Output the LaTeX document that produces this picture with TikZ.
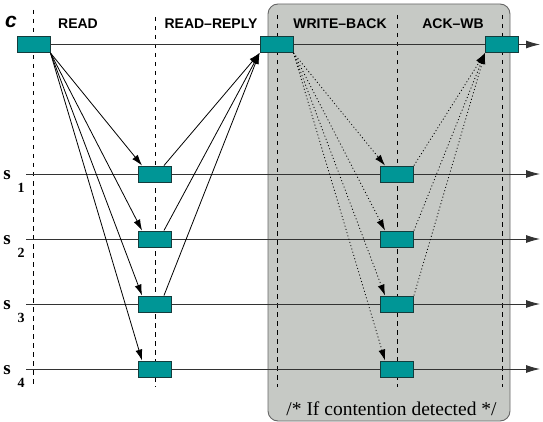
\documentclass[tikz,border=0pt]{standalone}
\usepackage{fontspec}
\setmainfont{Liberation Serif}
\setsansfont{Liberation Sans}
\usetikzlibrary{arrows.meta}
\definecolor{msgteal}{RGB}{0,150,150}
\definecolor{msgedge}{RGB}{20,60,60}
\definecolor{phasegray}{RGB}{198,201,197}

\begin{document}
\begin{tikzpicture}[x=1pt,y=-1pt,
  msgbox/.style={draw=msgedge,fill=msgteal,line width=0.9pt,minimum width=33pt,minimum height=16pt,inner sep=0pt},
  timeline/.style={draw=black!80,line width=0.9pt,-{Latex[length=14pt,width=8pt]}},
  phase/.style={dash pattern=on 4.5pt off 4.5pt,line width=0.9pt},
  msg/.style={line width=0.8pt,-{Latex[length=11pt,width=7pt]}},
  dotmsg/.style={msg,dash pattern=on 1pt off 2.4pt},
  phaselabel/.style={font=\sffamily\bfseries\fontsize{14}{14}\selectfont},
  proclabel/.style={inner sep=0pt,font=\bfseries\fontsize{19}{19}\selectfont},
  idxlabel/.style={inner sep=0pt,font=\bfseries\fontsize{14}{14}\selectfont},
  notelabel/.style={font=\fontsize{19.5}{19.5}\selectfont}
]
\useasboundingbox (0,0) rectangle (543,422);

% shaded write-back phase
\draw [draw=black!60, fill=phasegray, rounded corners=10pt, line width=0.9pt] (268,4) rectangle (510,421);

% phase borders
\foreach \x/\a/\b in {33/10/384, 155/17/387, 277/15/387, 397/15/387, 502/15/387}
  \draw [phase] (\x,\a) -- (\x,\b);

% server time lines
\foreach \i/\y in {1/174, 2/239, 3/304, 4/369} {
  \coordinate (s\i a) at (26,\y);
  \coordinate (s\i b) at (540,\y);
  \draw [timeline] (s\i a) -- (s\i b);
}

% client time line
\node [msgbox] (c0) at (33.5,44.5) {};
\coordinate (cb) at (540,44.5);
\draw [timeline] (c0.east) -- (cb);
\node [msgbox] (c1) at (276.5,44.5) {};
\node [msgbox] (c2) at (502,44.5) {};

\foreach \i/\y in {1/174, 2/239, 3/304, 4/369} {
  \node [msgbox] (r\i) at (155,\y) {};
  \node [msgbox] (w\i) at (397,\y) {};
}

% messages
\foreach \i in {1,...,4}
  \draw [msg] (c0.south east) -- ([xshift=4pt]r\i.north west);
\foreach \i in {1,2,3}
  \draw [msg] ([xshift=-8pt]r\i.north east) -- (c1.south west);
\foreach \i in {1,...,4}
  \draw [dotmsg] (c1.south east) -- ([xshift=5pt]w\i.north west);
\foreach \i in {1,2,3}
  \draw [dotmsg] (w\i.north east) -- (c2.south west);

% labels
\node [font=\sffamily\bfseries\itshape\fontsize{21}{21}\selectfont] (lc) at (11,22) {c};
\node [phaselabel] (lread) at (78,24) {READ};
\node [phaselabel] (lreply) at (211,24) {READ--REPLY};
\node [phaselabel] (lwb) at (340,24) {WRITE--BACK};
\node [phaselabel] (lack) at (453,24) {ACK--WB};
\foreach \i/\ys/\yn in {1/175/188, 2/240/253, 3/305/318, 4/370/383} {
  \node [proclabel] (p\i) at (7,\ys) {s};
  \node [idxlabel] (n\i) at (21,\yn) {\i};
}
\node [notelabel] (note) at (391.5,409) {/* If contention detected */};
\end{tikzpicture}
\end{document}
